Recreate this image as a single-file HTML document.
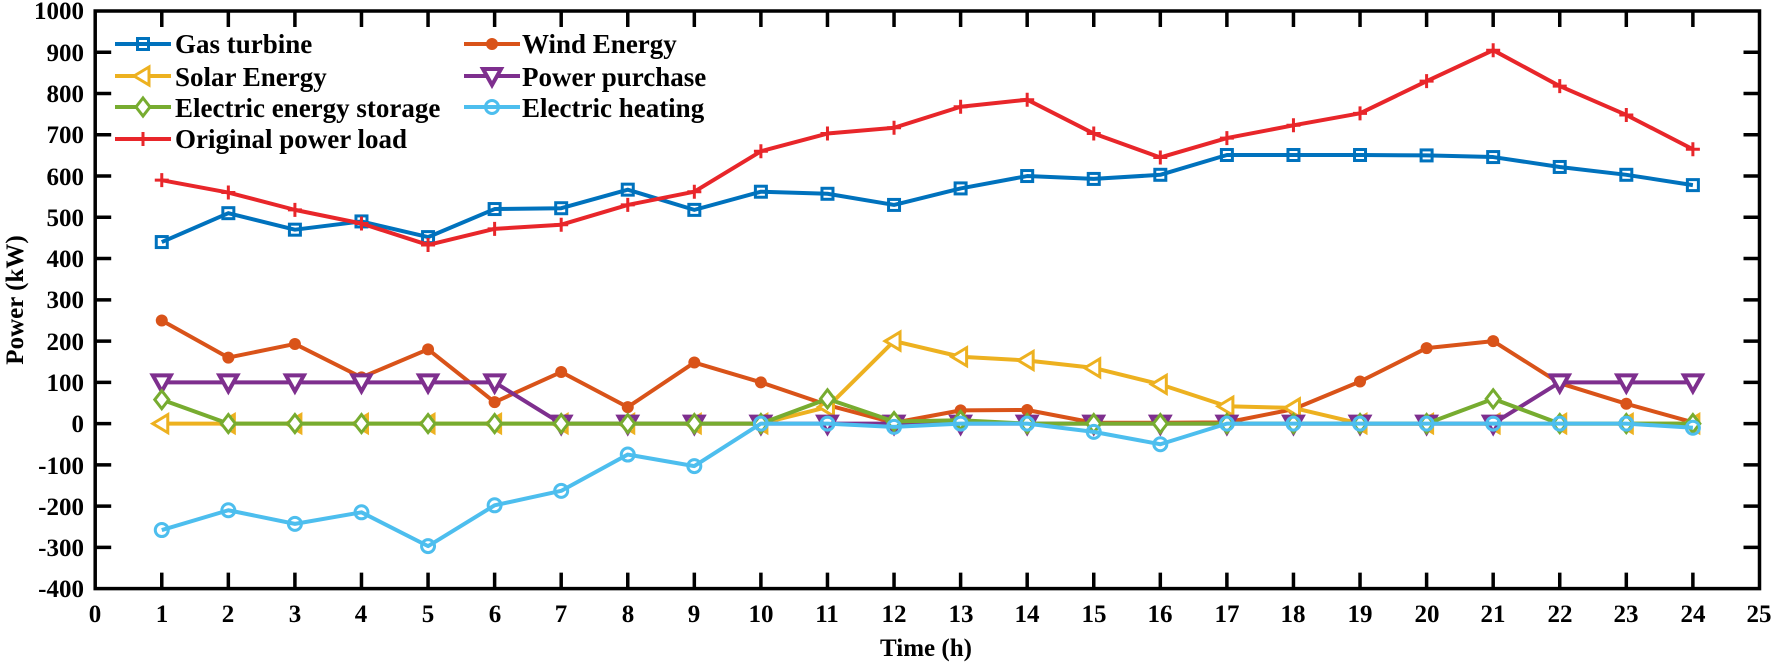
<!DOCTYPE html>
<html><head><meta charset="utf-8"><style>
html,body{margin:0;padding:0;background:#fff;}
svg{display:block;}
text{font-family:"Liberation Serif",serif;font-weight:bold;fill:#000;}
</style></head><body>
<svg id="s" width="1773" height="662" xmlns="http://www.w3.org/2000/svg">
<g font-size="25" text-anchor="end">
<text x="84" y="19">1000</text><text x="84" y="61">900</text><text x="84" y="102">800</text><text x="84" y="143">700</text><text x="84" y="185">600</text><text x="84" y="226">500</text><text x="84" y="267">400</text><text x="84" y="308">300</text><text x="84" y="350">200</text><text x="84" y="391">100</text><text x="84" y="432">0</text><text x="84" y="474">-100</text><text x="84" y="515">-200</text><text x="84" y="556">-300</text><text x="84" y="597">-400</text>
</g>
<g font-size="25" text-anchor="middle">
<text x="95" y="622">0</text><text x="162" y="622">1</text><text x="228" y="622">2</text><text x="295" y="622">3</text><text x="361" y="622">4</text><text x="428" y="622">5</text><text x="495" y="622">6</text><text x="561" y="622">7</text><text x="628" y="622">8</text><text x="694" y="622">9</text><text x="761" y="622">10</text><text x="827" y="622">11</text><text x="894" y="622">12</text><text x="961" y="622">13</text><text x="1027" y="622">14</text><text x="1094" y="622">15</text><text x="1160" y="622">16</text><text x="1227" y="622">17</text><text x="1293" y="622">18</text><text x="1360" y="622">19</text><text x="1427" y="622">20</text><text x="1493" y="622">21</text><text x="1560" y="622">22</text><text x="1626" y="622">23</text><text x="1693" y="622">24</text><text x="1759" y="622">25</text>
</g>
<text x="926" y="656" font-size="25" text-anchor="middle">Time (h)</text>
<text transform="translate(23,300) rotate(-90)" font-size="25" text-anchor="middle">Power (kW)</text>
<g id="ax" stroke="#000" stroke-width="3.5" fill="none"><rect x="95.2" y="11" width="1664.3" height="577.6"/></g>
<g id="plot"></g>
<g font-size="27">
<text x="175" y="53">Gas turbine</text>
<text x="175" y="86">Solar Energy</text>
<text x="175" y="117">Electric energy storage</text>
<text x="175" y="148">Original power load</text>
<text x="522" y="53">Wind Energy</text>
<text x="522" y="86">Power purchase</text>
<text x="522" y="117">Electric heating</text>
</g>
<g id="leg"></g>
</svg>
<script>
var NS="http://www.w3.org/2000/svg",P=document.getElementById('plot'),L=document.getElementById('leg'),AX=document.getElementById('ax');
function X(i){return 95.2+66.57*i}function Y(v){return 423.6-0.4126*v}
function el(p,t,a){var e=document.createElementNS(NS,t);for(var k in a)e.setAttribute(k,a[k]);p.appendChild(e);return e}
var d="";
for(var i=1;i<25;i++){d+="M"+X(i)+" 588.6V572.6M"+X(i)+" 11V27";}
for(var v=-300;v<1000;v+=100){d+="M95.2 "+Y(v)+"H111.2M1759.5 "+Y(v)+"H1743.5";}
el(AX,'path',{d:d});
var S=[
["#0072BD","sq",[440,510,470,490,452,520,522,567,518,562,557,530,570,600,593,603,651,651,651,650,646,622,603,578]],
["#D95319","dot",[250,160,193,112,180,52,125,40,148,100,45,2,32,33,2,2,3,35,102,183,200,98,48,3]],
["#EDB120","tri",[0,0,0,0,0,0,0,0,0,0,40,200,162,153,135,95,42,38,0,0,0,0,0,0]],
["#7E2F8E","dn",[100,100,100,100,100,100,0,0,0,0,0,0,0,0,0,0,0,0,0,0,0,100,100,100]],
["#77AC30","dia",[58,0,0,0,0,0,0,0,0,0,60,5,8,0,0,0,0,0,0,0,60,0,0,0]],
["#4DBEEE","circ",[-258,-210,-243,-215,-297,-198,-163,-75,-103,0,0,-8,0,0,-20,-50,0,0,0,0,0,0,0,-10]],
["#E8262A","plus",[590,560,518,485,433,472,482,530,562,660,703,717,768,785,703,645,692,723,752,830,905,818,748,665]]];
function mk(g,c,t,x,y){var a={stroke:c,"stroke-width":3,fill:"none"};
if(t=="sq"){a.x=x-5.5;a.y=y-5.5;a.width=11;a.height=11;el(g,'rect',a);}
else if(t=="dot"){el(g,'circle',{cx:x,cy:y,r:6,fill:c});}
else if(t=="circ"){a.cx=x;a.cy=y;a.r=6.5;el(g,'circle',a);}
else if(t=="tri"){a.points=(x-9)+","+y+" "+(x+6)+","+(y-9)+" "+(x+6)+","+(y+9);a.fill="#fff";el(g,'polygon',a);}
else if(t=="dn"){a.points=(x-9)+","+(y-7)+" "+(x+9)+","+(y-7)+" "+x+","+(y+9);a["stroke-width"]=4;a.fill="#fff";el(g,'polygon',a);}
else if(t=="dia"){a.points=x+","+(y-9)+" "+(x+7)+","+y+" "+x+","+(y+9)+" "+(x-7)+","+y;a.fill="#fff";el(g,'polygon',a);}
else if(t=="plus"){a.d="M"+(x-7)+" "+y+"H"+(x+7)+"M"+x+" "+(y-7)+"V"+(y+7);el(g,'path',a);}}
S.forEach(function(s){var pts=s[2].map(function(v,i){return X(i+1)+","+Y(v)}).join(" ");
el(P,'polyline',{points:pts,stroke:s[0],"stroke-width":4,fill:"none","stroke-linejoin":"round"});
s[2].forEach(function(v,i){mk(P,s[0],s[1],X(i+1),Y(v))});});
var lp=[[115,44],[464,44],[115,76],[464,76],[115,107],[464,107],[115,139]];
[0,1,2,3,4,5,6].forEach(function(k,j){var s=S[k],p=lp[j];
el(L,'path',{d:"M"+p[0]+" "+p[1]+"H"+(p[0]+56),stroke:s[0],"stroke-width":4});
mk(L,s[0],s[1],p[0]+28,p[1]);});
</script>
</body></html>
